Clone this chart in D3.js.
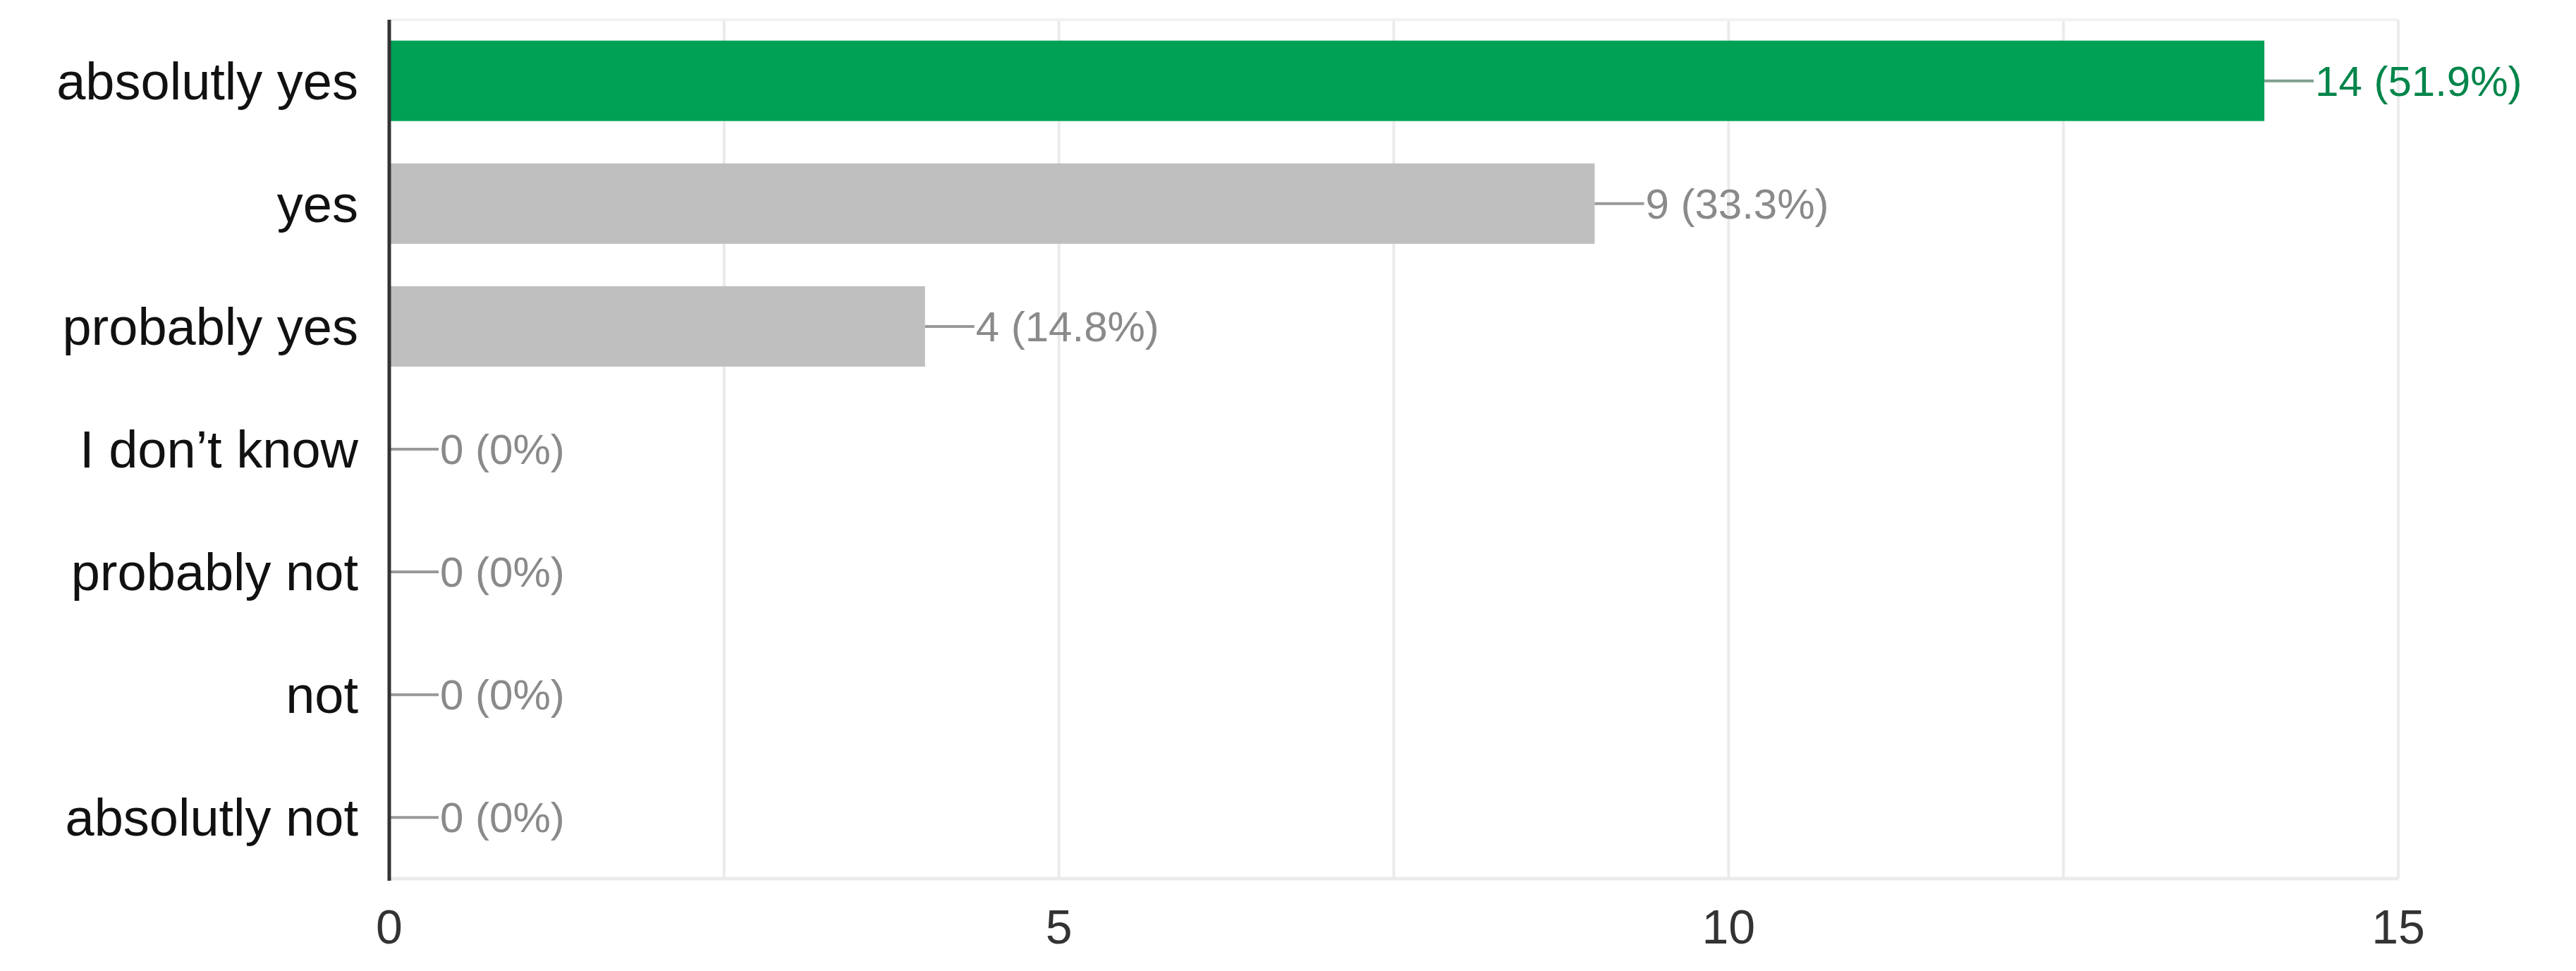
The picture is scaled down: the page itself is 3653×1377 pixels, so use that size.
<!DOCTYPE html>
<html><head><meta charset="utf-8">
<script src="https://cdn.jsdelivr.net/npm/d3@7"></script>
<style>body{margin:0;background:#fff}</style></head>
<body><svg id="c" width="3653" height="1377"></svg>
<script>
const categories = ["absolutly yes","yes","probably yes","I don\u2019t know","probably not","not","absolutly not"];
const counts = [14, 9, 4, 0, 0, 0, 0];
const percents = ["51.9%","33.3%","14.8%","0%","0%","0%","0%"];
const ticks = [0, 5, 10, 15];
const gridTicks = [2.5, 5, 7.5, 10, 12.5, 15];

const svg = d3.select("#c");
const L = 552, R = 3401, T = 28, B = 1246;
const x = d3.scaleLinear().domain([0, 15]).range([L, R]);
const y = d3.scaleBand().domain(categories).range([T, B]).paddingInner(0.345).paddingOuter(0.17);

svg.append("g").selectAll("line").data(gridTicks).join("line")
  .attr("x1", d => x(d)).attr("x2", d => x(d)).attr("y1", T).attr("y2", B)
  .attr("stroke", "#ebebeb").attr("stroke-width", 4);
svg.append("line").attr("x1", L).attr("x2", R).attr("y1", B).attr("y2", B).attr("stroke", "#ebebeb").attr("stroke-width", 5);
svg.append("line").attr("x1", L).attr("x2", R).attr("y1", T).attr("y2", T).attr("stroke", "#f2f2f2").attr("stroke-width", 4);

svg.append("g").selectAll("rect").data(categories).join("rect")
  .attr("x", L).attr("y", d => y(d)).attr("height", y.bandwidth())
  .attr("width", (d, i) => x(counts[i]) - L)
  .attr("fill", (d, i) => i === 0 ? "#00a055" : "#bfbfbf");

const lab = svg.append("g").selectAll("g").data(categories).join("g");
lab.append("line")
  .attr("x1", (d, i) => x(counts[i])).attr("x2", (d, i) => x(counts[i]) + 70)
  .attr("y1", d => y(d) + y.bandwidth() / 2).attr("y2", d => y(d) + y.bandwidth() / 2)
  .attr("stroke", (d, i) => i === 0 ? "#7f9f8f" : "#999").attr("stroke-width", 4);
lab.append("text")
  .attr("x", (d, i) => x(counts[i]) + 72).attr("y", d => y(d) + y.bandwidth() / 2)
  .attr("dy", "0.35em").attr("font-family", "Liberation Sans, Arial, sans-serif").attr("font-size", 60)
  .attr("fill", (d, i) => i === 0 ? "#00854a" : "#8a8a8a")
  .text((d, i) => `${counts[i]} (${percents[i]})`);

svg.append("g").selectAll("text").data(categories).join("text")
  .attr("x", 508).attr("y", d => y(d) + y.bandwidth() / 2).attr("dy", "0.35em")
  .attr("text-anchor", "end").attr("font-family", "Liberation Sans Narrow, Liberation Sans, sans-serif")
  .attr("font-size", 74).attr("fill", "#111").text(d => d);

svg.append("line").attr("x1", L).attr("x2", L).attr("y1", T).attr("y2", B + 3).attr("stroke", "#333").attr("stroke-width", 5);

svg.append("g").selectAll("text").data(ticks).join("text")
  .attr("x", d => x(d)).attr("y", 1338).attr("text-anchor", "middle")
  .attr("font-family", "Liberation Sans Narrow, Liberation Sans, sans-serif").attr("font-size", 68)
  .attr("fill", "#333").text(d => d);
</script></body></html>
